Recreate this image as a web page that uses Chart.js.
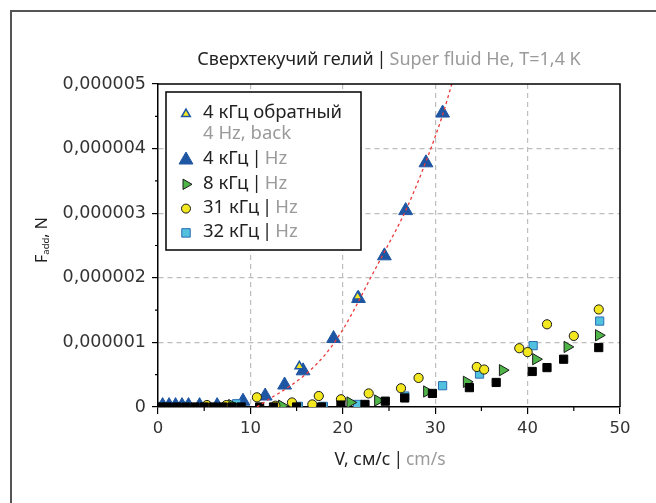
<!DOCTYPE html>
<html>
<head>
<meta charset="utf-8">
<script src="https://cdn.jsdelivr.net/npm/chart.js@4/dist/chart.umd.min.js"></script>
<style>
  html, body { margin: 0; padding: 0; background: #fff; }
</style>
</head>
<body>
<canvas id="myChart" width="656" height="503"></canvas>
<script>
// V, cm/s  and  F, N
var v4Hz = [0.5, 1.2, 1.9, 2.6, 3.3, 4.5, 6.4, 9.2, 11.6, 13.7, 15.7, 19.0, 21.7, 24.5, 26.8, 29.0, 30.8];
var f4Hz = [0.06e-6, 0.06e-6, 0.06e-6, 0.06e-6, 0.06e-6, 0.06e-6, 0.06e-6, 0.09e-6, 0.17e-6, 0.34e-6, 0.56e-6, 1.06e-6, 1.68e-6, 2.34e-6, 3.04e-6, 3.78e-6, 4.55e-6];

var v4Back = [15.3, 21.6];
var f4Back = [0.63e-6, 1.71e-6];

var v8Hz = [8.0, 13.4, 20.8, 23.8, 29.1, 33.4, 37.3, 40.9, 44.3, 47.7];
var f8Hz = [0.03e-6, 0.02e-6, 0.07e-6, 0.10e-6, 0.24e-6, 0.39e-6, 0.57e-6, 0.74e-6, 0.93e-6, 1.11e-6];

var v31Hz = [5.3, 7.4, 10.7, 12.7, 14.5, 16.7, 17.4, 19.8, 22.8, 26.3, 28.2, 34.5, 35.3, 39.1, 40.0, 42.1, 45.0, 47.7];
var f31Hz = [0.03e-6, 0.03e-6, 0.15e-6, 0.02e-6, 0.07e-6, 0.04e-6, 0.17e-6, 0.12e-6, 0.21e-6, 0.29e-6, 0.45e-6, 0.62e-6, 0.58e-6, 0.91e-6, 0.85e-6, 1.28e-6, 1.10e-6, 1.51e-6];

var v32Hz = [0.3, 3.0, 8.0, 8.5, 15.2, 17.9, 21.6, 26.7, 30.8, 34.8, 40.6, 47.8];
var f32Hz = [0.01e-6, 0.01e-6, 0.01e-6, 0.05e-6, 0.01e-6, 0.01e-6, 0.04e-6, 0.17e-6, 0.33e-6, 0.51e-6, 0.95e-6, 1.33e-6];

var vBlack = [0.3, 1.0, 2.0, 3.0, 4.0, 5.0, 6.0, 7.0, 8.0, 9.0, 11.0, 12.5, 15.0, 17.7, 19.8, 22.4, 24.6, 26.7, 29.7, 33.7, 36.6, 40.5, 42.1, 43.9, 47.7];
var fBlack = [0, 0, 0, 0, 0, 0, 0, 0, 0, 0, 0, 0, 0, 0, 0.03e-6, 0.04e-6, 0.09e-6, 0.14e-6, 0.21e-6, 0.30e-6, 0.38e-6, 0.55e-6, 0.61e-6, 0.74e-6, 0.92e-6];

// red dotted fit through the 4 kHz points
var vFit = [10.7, 12.0, 13.6, 16.1, 18.2, 20.1, 21.5, 22.9, 24.5, 26.8, 29.0, 30.8, 31.9];
var fFit = [0, 0.12e-6, 0.26e-6, 0.52e-6, 0.83e-6, 1.22e-6, 1.58e-6, 1.97e-6, 2.40e-6, 3.04e-6, 3.80e-6, 4.52e-6, 5.05e-6];

var xTicks = [0, 10, 20, 30, 40, 50];
var yTicks = [0, 1e-6, 2e-6, 3e-6, 4e-6, 5e-6];
var yTickLabels = ['0', '0,000001', '0,000002', '0,000003', '0,000004', '0,000005'];

function pts(xs, ys) {
    return xs.map(function (x, i) { return { x: x, y: ys[i] }; });
}

var BLUE = '#1f56a3';
var YELLOW = '#f3e71f';
var GREEN = '#4fb548';
var CYAN = '#52c1de';
var DARK = '#1a1a1a';
var GREY = '#9a9a9a';
var TXT = '#222';
var SEP = '\u2009|\u2009';

var legendRows = [
    { style: 'triangle', r: 5, rot: 0, fill: YELLOW, stroke: BLUE, lw: 1.5, ru: '4 кГц обратный', en: '4 Hz, back', newline: true },
    { style: 'triangle', r: 8, rot: 0, fill: BLUE, stroke: BLUE, lw: 1, ru: '4 кГц' + SEP, en: 'Hz' },
    { style: 'triangle', r: 6, rot: 90, fill: GREEN, stroke: DARK, lw: 1, ru: '8 кГц' + SEP, en: 'Hz' },
    { style: 'circle', r: 4.5, rot: 0, fill: YELLOW, stroke: DARK, lw: 1, ru: '31 кГц' + SEP, en: 'Hz' },
    { style: 'rect', r: 6, rot: 0, fill: CYAN, stroke: '#2a6db3', lw: 1, ru: '32 кГц' + SEP, en: 'Hz' }
];

function drawParts(ctx, parts, x, y, align) {
    var total = 0;
    parts.forEach(function (p) { ctx.font = p.font; total += ctx.measureText(p.t).width; });
    var cx = align === 'center' ? x - total / 2 : x;
    parts.forEach(function (p) {
        ctx.font = p.font;
        ctx.fillStyle = p.c;
        ctx.textAlign = 'left';
        ctx.textBaseline = 'middle';
        ctx.fillText(p.t, cx, y + (p.dy || 0));
        cx += ctx.measureText(p.t).width;
    });
}

var FONT = '"Noto Sans", sans-serif';

var decor = {
    id: 'decor',
    afterDraw: function (chart) {
        var ctx = chart.ctx, a = chart.chartArea;
        var xs = chart.scales.x, ys = chart.scales.y;
        ctx.save();

        // outer frame (top and left)
        ctx.strokeStyle = '#555';
        ctx.lineWidth = 2;
        ctx.beginPath();
        ctx.moveTo(11, 503);
        ctx.lineTo(11, 11);
        ctx.lineTo(656, 11);
        ctx.stroke();

        // top and right edges of the plot box
        ctx.strokeStyle = '#000';
        ctx.lineWidth = 1.5;
        ctx.beginPath();
        ctx.moveTo(a.left, a.top);
        ctx.lineTo(a.right, a.top);
        ctx.lineTo(a.right, a.bottom);
        ctx.stroke();

        // minor ticks
        ctx.lineWidth = 1.2;
        ctx.beginPath();
        for (var i = 0; i < xs.ticks.length - 1; i++) {
            var mx = (xs.getPixelForTick(i) + xs.getPixelForTick(i + 1)) / 2;
            ctx.moveTo(mx, a.bottom);
            ctx.lineTo(mx, a.bottom + 4);
        }
        for (var j = 0; j < ys.ticks.length - 1; j++) {
            var my = (ys.getPixelForTick(j) + ys.getPixelForTick(j + 1)) / 2;
            ctx.moveTo(a.left, my);
            ctx.lineTo(a.left - 3, my);
        }
        ctx.stroke();

        // title
        drawParts(ctx, [
            { t: 'Сверхтекучий гелий' + SEP, c: TXT, font: '18px ' + FONT },
            { t: 'Super fluid He, T=1,4 K', c: GREY, font: '18px ' + FONT }
        ], 389, 60, 'center');

        // x axis title
        drawParts(ctx, [
            { t: 'V, см/с' + SEP, c: TXT, font: '17.5px ' + FONT },
            { t: 'cm/s', c: GREY, font: '17.5px ' + FONT }
        ], 390, 460, 'center');

        // y axis title
        ctx.save();
        ctx.translate(42, 240);
        ctx.rotate(-Math.PI / 2);
        drawParts(ctx, [
            { t: 'F', c: TXT, font: '16px ' + FONT },
            { t: 'add', c: TXT, font: '9.5px ' + FONT, dy: 4 },
            { t: ', N', c: TXT, font: '16px ' + FONT }
        ], 0, 0, 'center');
        ctx.restore();

        // legend
        ctx.fillStyle = '#fff';
        ctx.fillRect(166, 92, 195, 158);
        ctx.strokeStyle = '#000';
        ctx.lineWidth = 1.5;
        ctx.strokeRect(166, 92, 195, 158);
        var y = 113;
        legendRows.forEach(function (row) {
            ctx.fillStyle = row.fill;
            ctx.strokeStyle = row.stroke;
            ctx.lineWidth = row.lw;
            Chart.helpers.drawPoint(ctx, { pointStyle: row.style, radius: row.r, rotation: row.rot, borderWidth: row.lw }, 186, y + 1);
            if (row.newline) {
                drawParts(ctx, [{ t: row.ru, c: TXT, font: '18.5px ' + FONT }], 203, y, 'left');
                y += 21;
                drawParts(ctx, [{ t: row.en, c: GREY, font: '18.5px ' + FONT }], 203, y, 'left');
                y += 25;
            } else {
                drawParts(ctx, [
                    { t: row.ru, c: TXT, font: '18.5px ' + FONT },
                    { t: row.en, c: GREY, font: '18.5px ' + FONT }
                ], 203, y, 'left');
                y += 24.3;
            }
        });
        ctx.restore();
    }
};

var ctx = document.getElementById('myChart').getContext('2d');
var chart = new Chart(ctx, {
    type: 'scatter',
    data: {
        datasets: [{
            type: 'line',
            label: 'fit',
            data: pts(vFit, fFit),
            borderColor: '#ea3b3b',
            borderWidth: 1.3,
            borderDash: [3, 3],
            pointRadius: 0,
            tension: 0.4,
            cubicInterpolationMode: 'monotone',
            fill: false
        }, {
            label: 'black',
            data: pts(vBlack, fBlack),
            pointStyle: 'rect',
            pointRadius: 5.8,
            backgroundColor: '#000',
            borderColor: '#000',
            borderWidth: 1
        }, {
            label: '31 кГц',
            data: pts(v31Hz, f31Hz),
            pointStyle: 'circle',
            pointRadius: 4.6,
            backgroundColor: YELLOW,
            borderColor: DARK,
            borderWidth: 1
        }, {
            label: '8 кГц',
            data: pts(v8Hz, f8Hz),
            pointStyle: 'triangle',
            rotation: 90,
            pointRadius: 6.5,
            backgroundColor: GREEN,
            borderColor: DARK,
            borderWidth: 1
        }, {
            label: '32 кГц',
            data: pts(v32Hz, f32Hz),
            pointStyle: 'rect',
            pointRadius: 5.8,
            backgroundColor: CYAN,
            borderColor: '#2a6db3',
            borderWidth: 1
        }, {
            label: '4 кГц обратный',
            data: pts(v4Back, f4Back),
            pointStyle: 'triangle',
            pointRadius: 5,
            backgroundColor: YELLOW,
            borderColor: BLUE,
            borderWidth: 1.5
        }, {
            label: '4 кГц',
            data: pts(v4Hz, f4Hz),
            pointStyle: 'triangle',
            // the near-zero points at low speed are drawn smaller
            pointRadius: function (c) { return c.raw && c.raw.x < 8 ? 5.5 : 8; },
            backgroundColor: BLUE,
            borderColor: BLUE,
            borderWidth: 1
        }]
    },
    options: {
        responsive: false,
        animation: false,
        layout: { padding: { left: 0, right: 36, top: 84, bottom: 0 } },
        plugins: {
            legend: { display: false },
            tooltip: { enabled: false }
        },
        scales: {
            x: {
                type: 'linear',
                min: 0,
                max: 50,
                afterBuildTicks: function (s) { s.ticks = xTicks.map(function (v) { return { value: v }; }); },
                afterFit: function (s) { s.height = 96; },
                ticks: {
                    color: '#333',
                    font: { family: 'DejaVu Sans', size: 16.5 },
                    padding: 5,
                    maxRotation: 0,
                    callback: function (v) { return String(v); }
                },
                grid: {
                    color: function (c) { return (c.tick && (c.tick.value === 0 || c.tick.value === 50)) ? 'rgba(0,0,0,0)' : '#bdbdbd'; },
                    lineWidth: 1.2,
                    tickColor: '#000',
                    tickLength: 7,
                    tickWidth: 1.2
                },
                border: { display: true, color: '#000', width: 1.5, dash: [5, 4] }
            },
            y: {
                type: 'linear',
                min: 0,
                max: 5e-6,
                afterBuildTicks: function (s) { s.ticks = yTicks.map(function (v) { return { value: v }; }); },
                afterFit: function (s) { s.width = 158; },
                ticks: {
                    color: '#333',
                    font: { family: 'DejaVu Sans', size: 17.5 },
                    padding: 6,
                    callback: function (v, i) { return yTickLabels[i]; }
                },
                grid: {
                    color: function (c) { return (c.tick && (c.tick.value === 0 || c.tick.value === 5e-6)) ? 'rgba(0,0,0,0)' : '#bdbdbd'; },
                    lineWidth: 1.2,
                    tickColor: '#000',
                    tickLength: 6,
                    tickWidth: 1.2
                },
                border: { display: true, color: '#000', width: 1.5, dash: [5, 4] }
            }
        }
    },
    plugins: [decor]
});
</script>
</body>
</html>
